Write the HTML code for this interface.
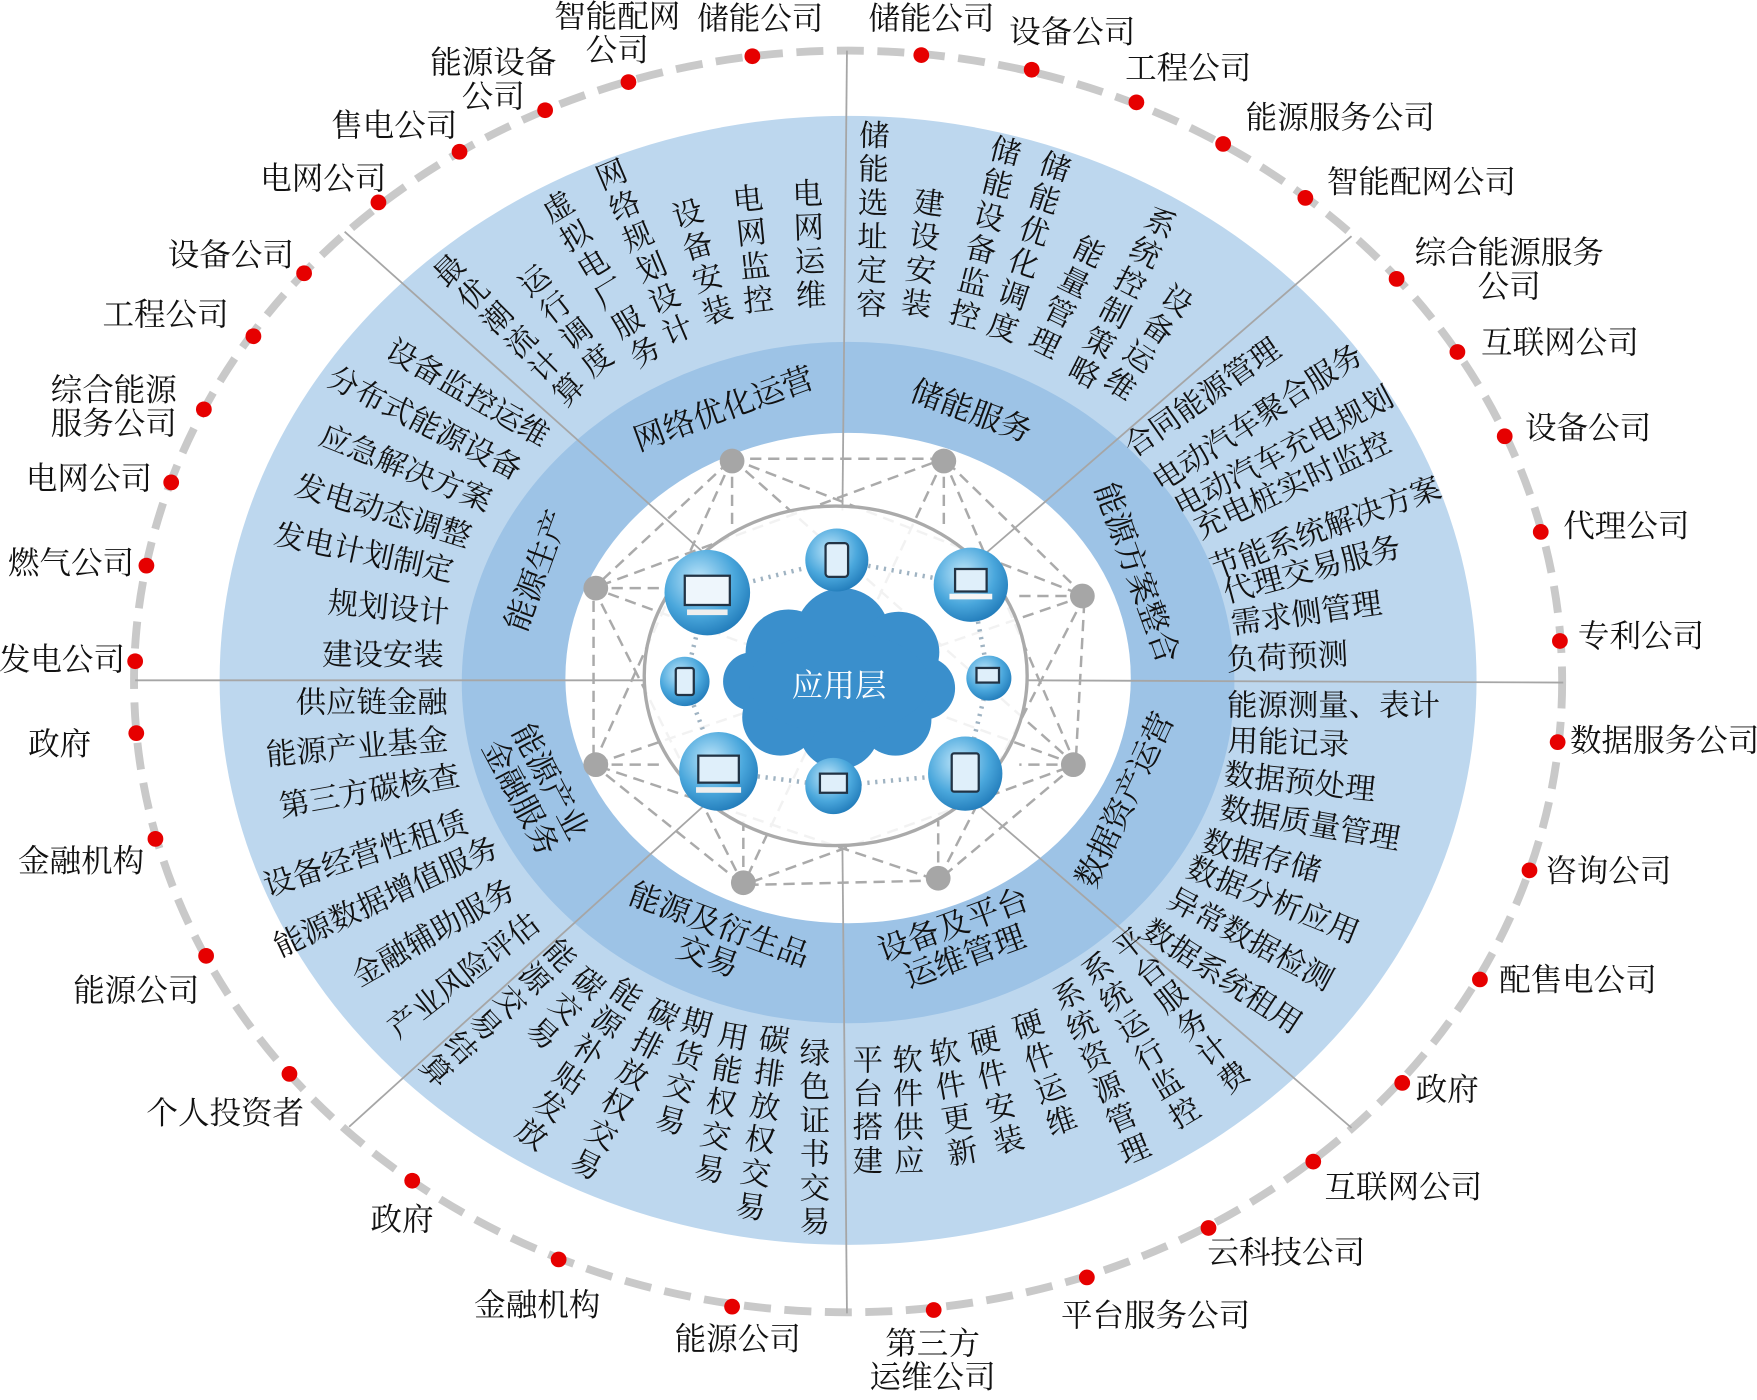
<!DOCTYPE html>
<html><head><meta charset="utf-8">
<style>
html,body{margin:0;padding:0;background:#fff;}
body{width:1757px;height:1400px;overflow:hidden;position:relative;}
#c{position:absolute;left:0;top:0;width:1560px;height:1245px;transform:scale(1.12628,1.12450);transform-origin:0 0;font-family:"Liberation Serif","Noto Serif CJK SC",serif;color:#111;}
#c svg{position:absolute;left:0;top:0;}
.t{position:absolute;white-space:nowrap;font-size:28px;line-height:30px;text-align:center;transform-origin:50% 50%;}
.r{position:absolute;white-space:nowrap;font-size:27px;line-height:29px;}
.v{position:absolute;writing-mode:vertical-rl;font-size:27px;letter-spacing:3px;line-height:28px;white-space:nowrap;transform-origin:50% 0;}
.m{position:absolute;white-space:nowrap;font-size:28px;line-height:30px;text-align:center;}
</style></head><body>
<div id="c">
<svg width="1560" height="1245" viewBox="0 0 1560 1245">
<defs>
<radialGradient id="ig" cx="40%" cy="35%" r="70%"><stop offset="0" stop-color="#bfe6fa"/><stop offset="0.6" stop-color="#4aa7dc"/><stop offset="1" stop-color="#1f79b8"/></radialGradient>
</defs>
<ellipse cx="753" cy="606" rx="634" ry="561" fill="none" stroke="#c9c9c9" stroke-width="7" stroke-dasharray="24 12"/>
<ellipse cx="753" cy="605" rx="558" ry="502" fill="#bdd7ee"/>
<ellipse cx="753" cy="607" rx="343" ry="303" fill="#9dc3e6"/>
<ellipse cx="753" cy="603" rx="251" ry="218" fill="#fff"/>
<g stroke="#a6a6a6" stroke-width="1.6">
<line x1="752" y1="45" x2="748" y2="454"/><line x1="748" y1="756" x2="752" y2="1168"/>
<line x1="120" y1="605" x2="572" y2="605"/><line x1="912" y1="605" x2="1388" y2="607"/>
<line x1="306" y1="206" x2="632" y2="498"/><line x1="1200" y1="210" x2="866" y2="500"/>
<line x1="310" y1="1002" x2="630" y2="712"/><line x1="1200" y1="1003" x2="864" y2="712"/>
</g>
<g stroke="#aaa" stroke-width="2.2" stroke-dasharray="10 6" fill="none">
<polygon points="650,408 838,408 963,530 955,680 833,783 660,787 527,680 527,523"/>
<polyline points="650,408 963,530 833,783 527,680 650,408"/>
<polyline points="838,408 955,680 660,787 527,523 838,408"/>
<line x1="650" y1="408" x2="955" y2="680"/><line x1="838" y1="408" x2="660" y2="787"/>
<line x1="963" y1="530" x2="527" y2="680"/><line x1="955" y1="680" x2="527" y2="523"/>
<line x1="650" y1="408" x2="650" y2="470"/><line x1="838" y1="408" x2="838" y2="470"/>
<line x1="527" y1="523" x2="590" y2="523"/><line x1="527" y1="680" x2="590" y2="680"/>
<line x1="963" y1="530" x2="905" y2="530"/><line x1="955" y1="680" x2="905" y2="680"/>
<line x1="660" y1="787" x2="660" y2="730"/><line x1="833" y1="783" x2="833" y2="730"/>
</g>
<g fill="#a6a6a6">
<circle cx="650" cy="410" r="11"/><circle cx="838" cy="410" r="11"/><circle cx="961" cy="530" r="11"/><circle cx="953" cy="680" r="11"/>
<circle cx="833" cy="781" r="11"/><circle cx="660" cy="785" r="11"/><circle cx="529" cy="680" r="11"/><circle cx="529" cy="523" r="11"/>
</g>
<ellipse cx="742" cy="601" rx="170" ry="151" fill="#fff" fill-opacity="0.85" stroke="#aaa" stroke-width="3"/>
<g stroke="#9fb3c2" stroke-width="4" stroke-dasharray="2 5" fill="none">
<polygon points="628,527 743,498 862,520 878,603 857,688 740,699 638,686 608,606"/>
</g>
<g fill="#3a8fcc">
<circle cx="700" cy="580" r="38"/><circle cx="748" cy="565" r="42"/><circle cx="798" cy="580" r="36"/><circle cx="820" cy="612" r="28"/>
<circle cx="795" cy="640" r="32"/><circle cx="745" cy="648" r="36"/><circle cx="693" cy="638" r="34"/><circle cx="668" cy="606" r="26"/>
<ellipse cx="745" cy="607" rx="80" ry="45"/>
</g>
<g>
<circle cx="628" cy="527" r="38" fill="url(#ig)"/><rect x="608" y="512" width="40" height="26" fill="#eef6fc" stroke="#234" stroke-width="2"/><rect x="610" y="542" width="36" height="5" fill="#eee"/>
<circle cx="743" cy="498" r="28" fill="url(#ig)"/><rect x="733" y="483" width="20" height="30" rx="3" fill="#dfeffa" stroke="#234" stroke-width="2"/>
<circle cx="862" cy="520" r="33" fill="url(#ig)"/><rect x="848" y="506" width="28" height="20" fill="#dfeffa" stroke="#234" stroke-width="2"/><rect x="843" y="528" width="38" height="5" fill="#f5f5f5"/>
<circle cx="608" cy="606" r="22" fill="url(#ig)"/><rect x="600" y="594" width="16" height="24" rx="2" fill="#dfeffa" stroke="#234" stroke-width="2"/>
<circle cx="878" cy="603" r="20" fill="url(#ig)"/><rect x="867" y="594" width="20" height="13" fill="#dfeffa" stroke="#234" stroke-width="2"/>
<circle cx="638" cy="686" r="35" fill="url(#ig)"/><rect x="620" y="672" width="36" height="24" fill="#dfeffa" stroke="#234" stroke-width="2"/><rect x="618" y="700" width="40" height="5" fill="#eee"/>
<circle cx="740" cy="699" r="25" fill="url(#ig)"/><rect x="728" y="688" width="24" height="17" fill="#dfeffa" stroke="#234" stroke-width="2"/>
<circle cx="857" cy="688" r="33" fill="url(#ig)"/><rect x="845" y="670" width="24" height="34" rx="2" fill="#dfeffa" stroke="#234" stroke-width="2"/>
</g>
<g fill="#e60000">
<circle cx="668" cy="50" r="7"/><circle cx="558" cy="73" r="7"/><circle cx="484" cy="98" r="7"/><circle cx="408" cy="135" r="7"/>
<circle cx="336" cy="180" r="7"/><circle cx="270" cy="243" r="7"/><circle cx="225" cy="299" r="7"/><circle cx="181" cy="364" r="7"/>
<circle cx="152" cy="429" r="7"/><circle cx="130" cy="503" r="7"/><circle cx="120" cy="588" r="7"/><circle cx="121" cy="652" r="7"/>
<circle cx="138" cy="746" r="7"/><circle cx="183" cy="850" r="7"/><circle cx="257" cy="955" r="7"/><circle cx="366" cy="1050" r="7"/>
<circle cx="496" cy="1120" r="7"/><circle cx="650" cy="1162" r="7"/><circle cx="829" cy="1165" r="7"/><circle cx="965" cy="1136" r="7"/>
<circle cx="1073" cy="1092" r="7"/><circle cx="1166" cy="1033" r="7"/><circle cx="1245" cy="963" r="7"/><circle cx="1314" cy="871" r="7"/>
<circle cx="1358" cy="774" r="7"/><circle cx="1383" cy="660" r="7"/><circle cx="1385" cy="570" r="7"/><circle cx="1368" cy="473" r="7"/>
<circle cx="1336" cy="388" r="7"/><circle cx="1294" cy="313" r="7"/><circle cx="1240" cy="248" r="7"/><circle cx="1159" cy="176" r="7"/>
<circle cx="1086" cy="128" r="7"/><circle cx="1009" cy="91" r="7"/><circle cx="916" cy="62" r="7"/><circle cx="818" cy="49" r="7"/>
</g>
<text x="745" y="619" font-family="Liberation Serif,Noto Serif CJK SC,serif" font-size="28" fill="#fff" text-anchor="middle">应用层</text>
</svg>

<!-- outer labels -->
<div class="t" style="left:675px;top:18px;transform:translate(-50%,-50%)">储能公司</div>
<div class="t" style="left:548px;top:31px;transform:translate(-50%,-50%)">智能配网<br>公司</div>
<div class="t" style="left:438px;top:72px;transform:translate(-50%,-50%)">能源设备<br>公司</div>
<div class="t" style="left:350px;top:113px;transform:translate(-50%,-50%)">售电公司</div>
<div class="t" style="left:287px;top:160px;transform:translate(-50%,-50%)">电网公司</div>
<div class="t" style="left:205px;top:228px;transform:translate(-50%,-50%)">设备公司</div>
<div class="t" style="left:147px;top:281px;transform:translate(-50%,-50%)">工程公司</div>
<div class="t" style="left:101px;top:363px;transform:translate(-50%,-50%)">综合能源<br>服务公司</div>
<div class="t" style="left:79px;top:427px;transform:translate(-50%,-50%)">电网公司</div>
<div class="t" style="left:63px;top:502px;transform:translate(-50%,-50%)">燃气公司</div>
<div class="t" style="left:55px;top:588px;transform:translate(-50%,-50%)">发电公司</div>
<div class="t" style="left:53px;top:663px;transform:translate(-50%,-50%)">政府</div>
<div class="t" style="left:72px;top:767px;transform:translate(-50%,-50%)">金融机构</div>
<div class="t" style="left:121px;top:882px;transform:translate(-50%,-50%)">能源公司</div>
<div class="t" style="left:200px;top:991px;transform:translate(-50%,-50%)">个人投资者</div>
<div class="t" style="left:357px;top:1086px;transform:translate(-50%,-50%)">政府</div>
<div class="t" style="left:477px;top:1162px;transform:translate(-50%,-50%)">金融机构</div>
<div class="t" style="left:655px;top:1192px;transform:translate(-50%,-50%)">能源公司</div>
<div class="t" style="left:828px;top:1211px;transform:translate(-50%,-50%)">第三方<br>运维公司</div>
<div class="t" style="left:1026px;top:1171px;transform:translate(-50%,-50%)">平台服务公司</div>
<div class="t" style="left:1142px;top:1115px;transform:translate(-50%,-50%)">云科技公司</div>
<div class="t" style="left:1246px;top:1057px;transform:translate(-50%,-50%)">互联网公司</div>
<div class="t" style="left:1285px;top:970px;transform:translate(-50%,-50%)">政府</div>
<div class="t" style="left:1401px;top:873px;transform:translate(-50%,-50%)">配售电公司</div>
<div class="t" style="left:1428px;top:776px;transform:translate(-50%,-50%)">咨询公司</div>
<div class="t" style="left:1478px;top:660px;transform:translate(-50%,-50%)">数据服务公司</div>
<div class="t" style="left:1457px;top:567px;transform:translate(-50%,-50%)">专利公司</div>
<div class="t" style="left:1444px;top:469px;transform:translate(-50%,-50%)">代理公司</div>
<div class="t" style="left:1410px;top:382px;transform:translate(-50%,-50%)">设备公司</div>
<div class="t" style="left:1385px;top:306px;transform:translate(-50%,-50%)">互联网公司</div>
<div class="t" style="left:1340px;top:241px;transform:translate(-50%,-50%)">综合能源服务<br>公司</div>
<div class="t" style="left:1262px;top:163px;transform:translate(-50%,-50%)">智能配网公司</div>
<div class="t" style="left:1190px;top:106px;transform:translate(-50%,-50%)">能源服务公司</div>
<div class="t" style="left:1055px;top:62px;transform:translate(-50%,-50%)">工程公司</div>
<div class="t" style="left:952px;top:30px;transform:translate(-50%,-50%)">设备公司</div>
<div class="t" style="left:827px;top:18px;transform:translate(-50%,-50%)">储能公司</div>

<!-- middle ring labels -->
<div class="m" style="left:643px;top:365px;transform:translate(-50%,-50%) rotate(-20deg)">网络优化运营</div>
<div class="m" style="left:862px;top:367px;transform:translate(-50%,-50%) rotate(20deg)">储能服务</div>
<div class="m" style="left:1008px;top:510px;transform:translate(-50%,-50%) rotate(70deg)">能源方案整合</div>
<div class="m" style="left:1000px;top:712px;transform:translate(-50%,-50%) rotate(-65deg)">数据资产运营</div>
<div class="m" style="left:852px;top:838px;transform:translate(-50%,-50%) rotate(-20deg)">设备及平台<br>运维管理</div>
<div class="m" style="left:633px;top:838px;transform:translate(-50%,-50%) rotate(20deg)">能源及衍生品<br>交易</div>
<div class="m" style="left:474px;top:703px;transform:translate(-50%,-50%) rotate(62deg)">能源产业<br>金融服务</div>
<div class="m" style="left:478px;top:508px;transform:translate(-50%,-50%) rotate(-70deg)">能源生产</div>

<!-- left sector rotated texts -->
<div class="r" style="left:415px;top:350px;transform:translate(-50%,-50%) rotate(30deg)">设备监控运维</div>
<div class="r" style="left:377px;top:377px;transform:translate(-50%,-50%) rotate(27deg)">分布式能源设备</div>
<div class="r" style="left:360px;top:417px;transform:translate(-50%,-50%) rotate(22deg)">应急解决方案</div>
<div class="r" style="left:340px;top:455px;transform:translate(-50%,-50%) rotate(17deg)">发电动态调整</div>
<div class="r" style="left:323px;top:492px;transform:translate(-50%,-50%) rotate(12deg)">发电计划制定</div>
<div class="r" style="left:345px;top:541px;transform:translate(-50%,-50%) rotate(5deg)">规划设计</div>
<div class="r" style="left:340px;top:583px;transform:translate(-50%,-50%)">建设安装</div>
<div class="r" style="left:330px;top:625px;transform:translate(-50%,-50%)">供应链金融</div>
<div class="r" style="left:317px;top:665px;transform:translate(-50%,-50%) rotate(-5deg)">能源产业基金</div>
<div class="r" style="left:328px;top:704px;transform:translate(-50%,-50%) rotate(-10deg)">第三方碳核查</div>
<div class="r" style="left:325px;top:760px;transform:translate(-50%,-50%) rotate(-18deg)">设备经营性租赁</div>
<div class="r" style="left:343px;top:798px;transform:translate(-50%,-50%) rotate(-25deg)">能源数据增值服务</div>
<div class="r" style="left:385px;top:830px;transform:translate(-50%,-50%) rotate(-30deg)">金融辅助服务</div>
<div class="r" style="left:412px;top:868px;transform:translate(-50%,-50%) rotate(-38deg)">产业风险评估</div>

<!-- right sector rotated texts -->
<div class="r" style="left:1068px;top:354px;transform:translate(-50%,-50%) rotate(-35deg)">合同能源管理</div>
<div class="r" style="left:1117px;top:372px;transform:translate(-50%,-50%) rotate(-33deg)">电动汽车聚合服务</div>
<div class="r" style="left:1140px;top:402px;transform:translate(-50%,-50%) rotate(-28deg)">电动汽车充电规划</div>
<div class="r" style="left:1148px;top:432px;transform:translate(-50%,-50%) rotate(-25deg)">充电桩实时监控</div>
<div class="r" style="left:1177px;top:470px;transform:translate(-50%,-50%) rotate(-20deg)">节能系统解决方案</div>
<div class="r" style="left:1165px;top:507px;transform:translate(-50%,-50%) rotate(-15deg)">代理交易服务</div>
<div class="r" style="left:1160px;top:546px;transform:translate(-50%,-50%) rotate(-8deg)">需求侧管理</div>
<div class="r" style="left:1143px;top:585px;transform:translate(-50%,-50%) rotate(-3deg)">负荷预测</div>
<div class="r" style="left:1184px;top:628px;transform:translate(-50%,-50%)">能源测量、表计</div>
<div class="r" style="left:1144px;top:661px;transform:translate(-50%,-50%) rotate(2deg)">用能记录</div>
<div class="r" style="left:1154px;top:696px;transform:translate(-50%,-50%) rotate(6deg)">数据预处理</div>
<div class="r" style="left:1163px;top:733px;transform:translate(-50%,-50%) rotate(10deg)">数据质量管理</div>
<div class="r" style="left:1120px;top:762px;transform:translate(-50%,-50%) rotate(15deg)">数据存储</div>
<div class="r" style="left:1130px;top:801px;transform:translate(-50%,-50%) rotate(22deg)">数据分析应用</div>
<div class="r" style="left:1110px;top:836px;transform:translate(-50%,-50%) rotate(28deg)">异常数据检测</div>
<div class="r" style="left:1085px;top:869px;transform:translate(-50%,-50%) rotate(33deg)">数据系统租用</div>

<!-- top-left verticals -->
<div class="v" style="left:714px;top:158px;transform:translateX(-50%) rotate(-2deg)">电网运维</div>
<div class="v" style="left:660px;top:163px;transform:translateX(-50%) rotate(-6deg)">电网监控</div>
<div class="v" style="left:604px;top:177px;transform:translateX(-50%) rotate(-17deg)">设备安装</div>
<div class="v" style="left:535px;top:143px;transform:translateX(-50%) rotate(-23deg)">网络规划设计</div>
<div class="v" style="left:486px;top:173px;transform:translateX(-50%) rotate(-31deg)">虚拟电厂服务</div>
<div class="v" style="left:464px;top:240px;transform:translateX(-50%) rotate(-38deg)">运行调度</div>
<div class="v" style="left:387px;top:232px;transform:translateX(-50%) rotate(-45deg)">最优潮流计算</div>
<!-- top-right verticals -->
<div class="v" style="left:774px;top:106px;transform:translateX(-50%) rotate(1deg)">储能选址定容</div>
<div class="v" style="left:824px;top:166px;transform:translateX(-50%) rotate(7deg)">建设安装</div>
<div class="v" style="left:894px;top:120px;transform:translateX(-50%) rotate(14deg)">储能设备监控</div>
<div class="v" style="left:939px;top:134px;transform:translateX(-50%) rotate(18deg)">储能优化调度</div>
<div class="v" style="left:971px;top:210px;transform:translateX(-50%) rotate(26deg)">能量管理</div>
<div class="v" style="left:1035px;top:184px;transform:translateX(-50%) rotate(27deg)">系统控制策略</div>
<div class="v" style="left:1051px;top:254px;transform:translateX(-50%) rotate(34deg)">设备运维</div>
<!-- bottom-left verticals -->
<div class="v" style="left:721px;top:922px;transform:translateX(-50%)">绿色证书交易</div>
<div class="v" style="left:687px;top:910px;transform:translateX(-50%) rotate(8deg)">碳排放权交易</div>
<div class="v" style="left:651px;top:907px;transform:translateX(-50%) rotate(10deg)">用能权交易</div>
<div class="v" style="left:620px;top:895px;transform:translateX(-50%) rotate(15deg)">期货交易</div>
<div class="v" style="left:593px;top:888px;transform:translateX(-50%) rotate(27deg)">碳排放权交易</div>
<div class="v" style="left:562px;top:871px;transform:translateX(-50%) rotate(34deg)">能源补贴发放</div>
<div class="v" style="left:530px;top:862px;transform:translateX(-50%) rotate(42deg)">碳交易</div>
<div class="v" style="left:506px;top:838px;transform:translateX(-50%) rotate(47deg)">能源交易结算</div>
<!-- bottom-right verticals -->
<div class="v" style="left:768px;top:928px;transform:translateX(-50%)">平台搭建</div>
<div class="v" style="left:803px;top:928px;transform:translateX(-50%) rotate(-1deg)">软件供应</div>
<div class="v" style="left:834px;top:922px;transform:translateX(-50%) rotate(-10deg)">软件更新</div>
<div class="v" style="left:868px;top:913px;transform:translateX(-50%) rotate(-14deg)">硬件安装</div>
<div class="v" style="left:906px;top:899px;transform:translateX(-50%) rotate(-19deg)">硬件运维</div>
<div class="v" style="left:941px;top:872px;transform:translateX(-50%) rotate(-23deg)">系统资源管理</div>
<div class="v" style="left:965px;top:850px;transform:translateX(-50%) rotate(-31deg)">系统运行监控</div>
<div class="v" style="left:992px;top:830px;transform:translateX(-50%) rotate(-38deg)">平台服务计费</div>
</div>
</body></html>
